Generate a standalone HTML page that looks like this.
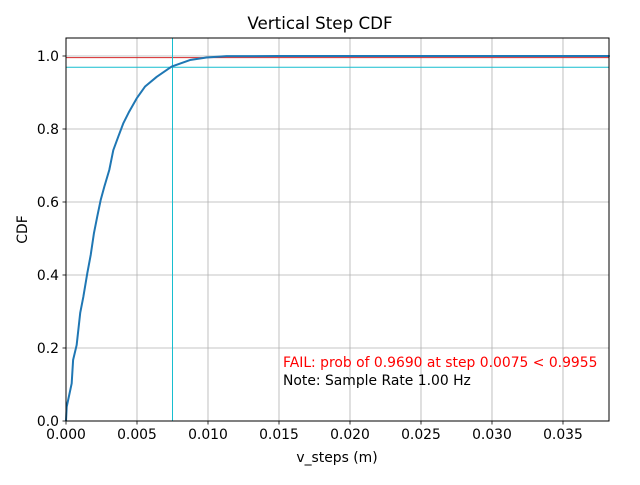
<!DOCTYPE html>
<html><head><meta charset="utf-8"><style>
body{margin:0;background:#fff}
svg text{font-family:"DejaVu Sans","Liberation Sans",sans-serif}
</style></head><body>
<svg id="chart" width="640" height="480" xmlns="http://www.w3.org/2000/svg">
<rect width="640" height="480" fill="#fff"/>
<g id="grid"></g>
<g id="marks"></g>
<rect x="66" y="38" width="543" height="383" fill="none" stroke="#000" stroke-width="1"/>
<g id="ticks"></g>
<text x="320" y="29" text-anchor="middle" font-size="16.7">Vertical Step CDF</text>
<text x="337" y="462" text-anchor="middle" font-size="13.9">v_steps (m)</text>
<text transform="translate(27,229.5) rotate(-90)" text-anchor="middle" font-size="13.9">CDF</text>
<text x="283" y="367" font-size="13.9" fill="red">FAIL: prob of 0.9690 at step 0.0075 &lt; 0.9955</text>
<text x="283" y="385" font-size="13.9" fill="#000">Note: Sample Rate 1.00 Hz</text>
</svg>
<script>
const xTicks=[0,0.005,0.010,0.015,0.020,0.025,0.030,0.035];
const xTickLabels=["0.000","0.005","0.010","0.015","0.020","0.025","0.030","0.035"];
const yTicks=[0,0.2,0.4,0.6,0.8,1.0];
const yTickLabels=["0.0","0.2","0.4","0.6","0.8","1.0"];
const cdfX=[0,0.00005,0.0004,0.0005,0.00075,0.001,0.00122,0.0015,0.00174,0.00197,0.0022,0.00244,0.0027,0.00305,0.00333,0.00368,0.00404,0.00444,0.00498,0.00556,0.00639,0.00744,0.00873,0.0099,0.0113,0.015,0.0383];
const cdfY=[0,0.039,0.103,0.167,0.208,0.296,0.34,0.405,0.455,0.515,0.56,0.605,0.642,0.688,0.742,0.779,0.816,0.847,0.884,0.916,0.943,0.971,0.989,0.996,0.9995,1.0,1.0];
const threshold=0.9955, probAtStep=0.969, stepValue=0.0075;
const X0=66,X1=609,Y0=421,Y1=38,xmax=0.03824,ymax=1.0493;
const sx=v=>X0+v/xmax*(X1-X0);
const sy=v=>Y0-v/ymax*(Y0-Y1);
const NS="http://www.w3.org/2000/svg";
function mk(tag,attrs,parent){const e=document.createElementNS(NS,tag);for(const k in attrs)e.setAttribute(k,attrs[k]);parent.appendChild(e);return e;}
const grid=document.getElementById('grid'),marks=document.getElementById('marks'),ticks=document.getElementById('ticks');
xTicks.forEach((t,i)=>{
 const g=mk('line',{x1:sx(t),x2:sx(t),y1:Y1,y2:Y0,stroke:'#b0b0b0','stroke-width':0.8},grid);
 
 
 const tk=mk('line',{x1:sx(t),x2:sx(t),y1:Y0,y2:Y0+3.5,stroke:'#000','stroke-width':0.8},ticks);
 
 
 const tx=mk('text',{x:sx(t),y:Y0+18,'text-anchor':'middle','font-size':13.9},ticks);
 tx.textContent=xTickLabels[i];
 
 
});
yTicks.forEach((t,i)=>{
 const g=mk('line',{x1:X0,x2:X1,y1:sy(t),y2:sy(t),stroke:'#b0b0b0','stroke-width':0.8},grid);
 
 
 const tk=mk('line',{x1:X0-3.5,x2:X0,y1:sy(t),y2:sy(t),stroke:'#000','stroke-width':0.8},ticks);
 
 
 const tx=mk('text',{x:X0-7,y:sy(t)+5,'text-anchor':'end','font-size':13.9},ticks);
 tx.textContent=yTickLabels[i];
 
 
});
const th=mk('line',{x1:X0,x2:X1,y1:sy(threshold),y2:sy(threshold),stroke:'#d62728','stroke-width':1},marks);


const pl=mk('line',{x1:X0,x2:X1,y1:sy(probAtStep),y2:sy(probAtStep),stroke:'#17becf','stroke-width':1},marks);


const vl=mk('line',{x1:sx(stepValue),x2:sx(stepValue),y1:Y1,y2:Y0,stroke:'#17becf','stroke-width':1},marks);


let d='';
cdfX.forEach((v,i)=>{d+=(i?'L':'M')+sx(v).toFixed(2)+','+sy(cdfY[i]).toFixed(2);});
const cp=mk('path',{d:d,fill:'none',stroke:'#1f77b4','stroke-width':2,'stroke-linejoin':'round'},marks);


</script>
</body></html>
